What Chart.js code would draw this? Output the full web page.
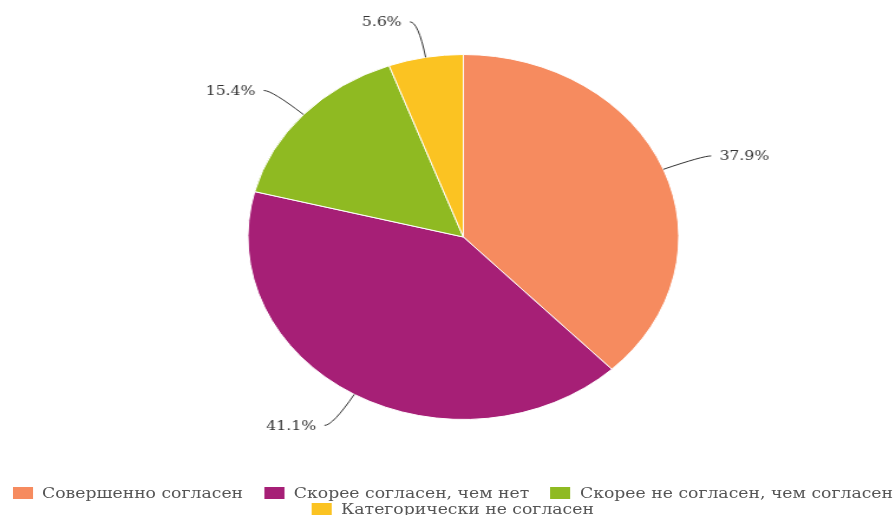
<!DOCTYPE html>
<html>
<head>
<meta charset="utf-8">
<script src="https://cdn.jsdelivr.net/npm/chart.js@4.4.1/dist/chart.umd.min.js"></script>
<style>
  html, body { margin: 0; padding: 0; background: #fff; overflow: hidden; width: 896px; height: 515px; }
  /* the reference is stretched sideways, so the whole chart is drawn narrow and widened */
  #wrap { position: absolute; left: 0; top: 0; width: 759px; height: 515px; transform: scaleX(1.1805); transform-origin: 0 0; }
  #legend { position: absolute; left: 4px; top: 485px; width: 759px; display: flex; flex-wrap: wrap; justify-content: center; column-gap: 18px; font: 14.6px "DejaVu Serif"; line-height: 16px; color: #555; }
  .item { display: flex; align-items: center; white-space: nowrap; }
  .box { width: 17px; height: 12px; margin-right: 8px; }
</style>
</head>
<body>
<div id="wrap">
  <canvas id="pie" width="759" height="478"></canvas>
  <div id="legend"></div>
</div>
<script>
const categories = ['Совершенно согласен', 'Скорее согласен, чем нет', 'Скорее не согласен, чем согласен', 'Категорически не согласен'];
const shares = [37.9, 41.1, 15.4, 5.6];
const colors = ['#F68B5F', '#A61F76', '#8FBA22', '#FBC322'];

// percent labels with curved leader lines
const calloutLabels = {
    id: 'calloutLabels',
    afterDatasetsDraw(chart) {
        const ctx = chart.ctx;
        const meta = chart.getDatasetMeta(0);
        ctx.save();
        ctx.strokeStyle = '#333';
        ctx.lineWidth = 1;
        ctx.font = '13.3px "DejaVu Serif"';
        ctx.fillStyle = '#333';
        ctx.textBaseline = 'middle';
        meta.data.forEach((arc, i) => {
            const p = arc.getProps(['x', 'y', 'startAngle', 'endAngle', 'outerRadius'], true);
            const a = (p.startAngle + p.endAngle) / 2;
            const cos = Math.cos(a), sin = Math.sin(a);
            const sx = p.x + cos * p.outerRadius, sy = p.y + sin * p.outerRadius;
            const ex = p.x + cos * (p.outerRadius + 36), ey = p.y + sin * (p.outerRadius + 36);
            const dir = cos >= 0 ? 1 : -1;
            const tx = ex + dir * 7;
            ctx.beginPath();
            ctx.moveTo(sx, sy);
            ctx.quadraticCurveTo(ex, ey, tx, ey);
            ctx.stroke();
            ctx.textAlign = dir > 0 ? 'left' : 'right';
            ctx.fillText(shares[i].toFixed(1) + '%', tx + dir * 7, ey + 1);
        });
        ctx.restore();
    }
};

new Chart(document.getElementById('pie'), {
    type: 'pie',
    data: {
        labels: categories,
        datasets: [{
            data: shares,
            backgroundColor: colors,
            borderColor: '#fff',
            borderWidth: 1
        }]
    },
    options: {
        responsive: false,
        animation: false,
        layout: { padding: { left: 26, right: 0, top: 54, bottom: 58 } },
        plugins: {
            legend: { display: false },
            tooltip: { enabled: false }
        }
    },
    plugins: [calloutLabels]
});

document.getElementById('legend').innerHTML = categories.map((c, i) =>
    `<div class="item"><span class="box" style="background:${colors[i]}"></span>${c}</div>`
).join('');
</script>
</body>
</html>
